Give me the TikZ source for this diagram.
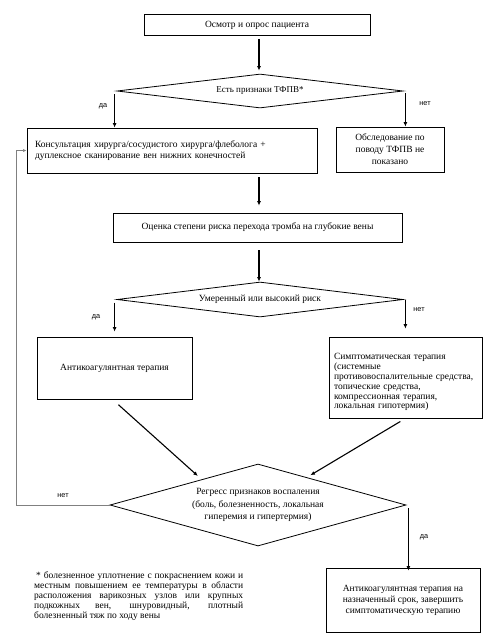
\documentclass[tikz,border=0pt]{standalone}
\usepackage{fontspec}
\setmainfont{Liberation Serif}
\newfontfamily\lblfont{Liberation Sans}
\usetikzlibrary{shapes.geometric,arrows.meta,calc}
\begin{document}
\begin{tikzpicture}[x=1pt,y=-1pt,
  txt/.style={font=\fontsize{9.5}{11}\selectfont},
  box/.style={draw, line width=0.8pt, rectangle, inner sep=0pt, txt},
  dia/.style={draw, line width=0.8pt, diamond, inner sep=0pt, txt},
  arr/.style={line width=1.1pt, -{Latex[length=4.5pt,width=4pt]}},
  fb/.style={draw=gray, line width=0.6pt, -{Latex[length=3.5pt,width=3pt]}},
  lbl/.style={font=\lblfont\fontsize{7.3}{8}\selectfont, inner sep=0pt}]
\useasboundingbox (0,0) rectangle (495,640);

\node[box, minimum width=226pt, minimum height=21pt] (b1) at (257,25) {Осмотр и опрос пациента};
\node[dia, minimum width=286pt, minimum height=34pt, shape aspect=8.4, font=\fontsize{9}{11}\selectfont] (d1) at (260,91) {Есть признаки ТФПВ*};
\node[box, minimum width=290pt, minimum height=45pt, align=left, text width=274pt] (b2) at (172,150.5)
  {Консультация хирурга/сосудистого хирурга/флеболога +\\дуплексное сканирование вен нижних конечностей};
\node[box, minimum width=108pt, minimum height=45pt, align=center, font=\fontsize{9.5}{12}\selectfont] (b3) at (390,149.5)
  {Обследование по\\поводу ТФПВ не\\показано};
\node[box, minimum width=289pt, minimum height=29pt] (b4) at (257.5,227.5) {Оценка степени риска перехода тромба на глубокие вены};
\node[dia, minimum width=286pt, minimum height=35pt, shape aspect=8.2] (d2) at (260,299.5) {Умеренный или высокий риск};
\node[box, minimum width=155pt, minimum height=62pt] (b5) at (114.5,368) {Антикоагулянтная терапия};
\node[box, minimum width=153pt, minimum height=81pt, align=left, text width=143pt, font=\fontsize{9.5}{9.8}\selectfont] (b6) at (405.5,377.5)
  {\rule{0pt}{16pt}Симптоматическая терапия\\(системные\\противовоспалительные средства,\\топические средства,\\компрессионная терапия,\\локальная гипотермия)};
\node[dia, minimum width=296pt, minimum height=82pt, shape aspect=3.6, align=center, font=\fontsize{9.5}{12.5}\selectfont] (d3) at (258,505)
  {Регресс признаков воспаления\\(боль, болезненность, локальная\\гиперемия и гипертермия)};
\node[box, minimum width=154pt, minimum height=64pt, align=center] (b7) at (403,600)
  {Антикоагулянтная терапия на\\назначенный срок, завершить\\симптоматическую терапию};
\node[txt, anchor=north west, inner sep=0pt, text width=209pt, align=justify, font=\fontsize{9.5}{10.2}\selectfont] (fn) at (34,571)
  {\hspace*{2pt}* болезненное уплотнение с покраснением кожи и\linebreak местным повышением ее температуры в области\linebreak расположения варикозных узлов или крупных\linebreak подкожных вен, шнуровидный, плотный\linebreak болезненный тяж по ходу вены};

% connectors
\draw[arr, shorten <=3pt, shorten >=3pt] ([xshift=2pt]b1.south) -- ([xshift=-1pt]d1.north);
\draw[arr] ([xshift=-2pt,yshift=-3pt]d1.west) -- ([xshift=-2pt]d1.west |- b2.north);
\node[lbl] (l1) at (103,106) {да};
\draw[arr] ([xshift=2pt,yshift=-2pt]d1.east) -- ([xshift=2pt]d1.east |- b3.north);
\node[lbl] (l2) at (425,104) {нет};
\draw[arr, shorten <=4pt, shorten >=7pt] ([xshift=-1pt]d2.north |- b2.south) -- ([xshift=-1pt]b4.north -| d2.north);
\draw[arr, shorten <=8pt] ([xshift=-1pt]d2.north |- b4.south) -- ([xshift=-1pt]d2.north);
\draw[arr, shorten >=5pt] ([xshift=-2pt,yshift=-3pt]d2.west) -- ([xshift=-2pt]d2.west |- b5.north);
\node[lbl] (l3) at (96,317) {да};
\draw[arr, shorten >=8pt] ([xshift=2pt]d2.east) -- ([xshift=2pt]d2.east |- b6.north);
\node[lbl] (l4) at (419,310) {нет};
\draw[arr, shorten <=8pt, shorten >=5pt] ([xshift=-2pt]b5.south) -- ($(d3.north)!0.38!(d3.west)$);
\draw[arr, shorten <=6pt, shorten >=4pt] (b6.south) -- ($(d3.north)!0.33!(d3.east)$);
\coordinate (c1) at (16,505);
\draw[fb] (d3.west) -- (c1) -- (c1 |- b2.west) -- (b2.west);
\node[lbl] (l5) at (63,496) {нет};
\draw[arr] ([xshift=2pt,yshift=-3pt]d3.east) -- ([xshift=2pt,yshift=-3pt]d3.east |- b7.north);
\node[lbl] (l6) at (424,537) {да};
\end{tikzpicture}
\end{document}
